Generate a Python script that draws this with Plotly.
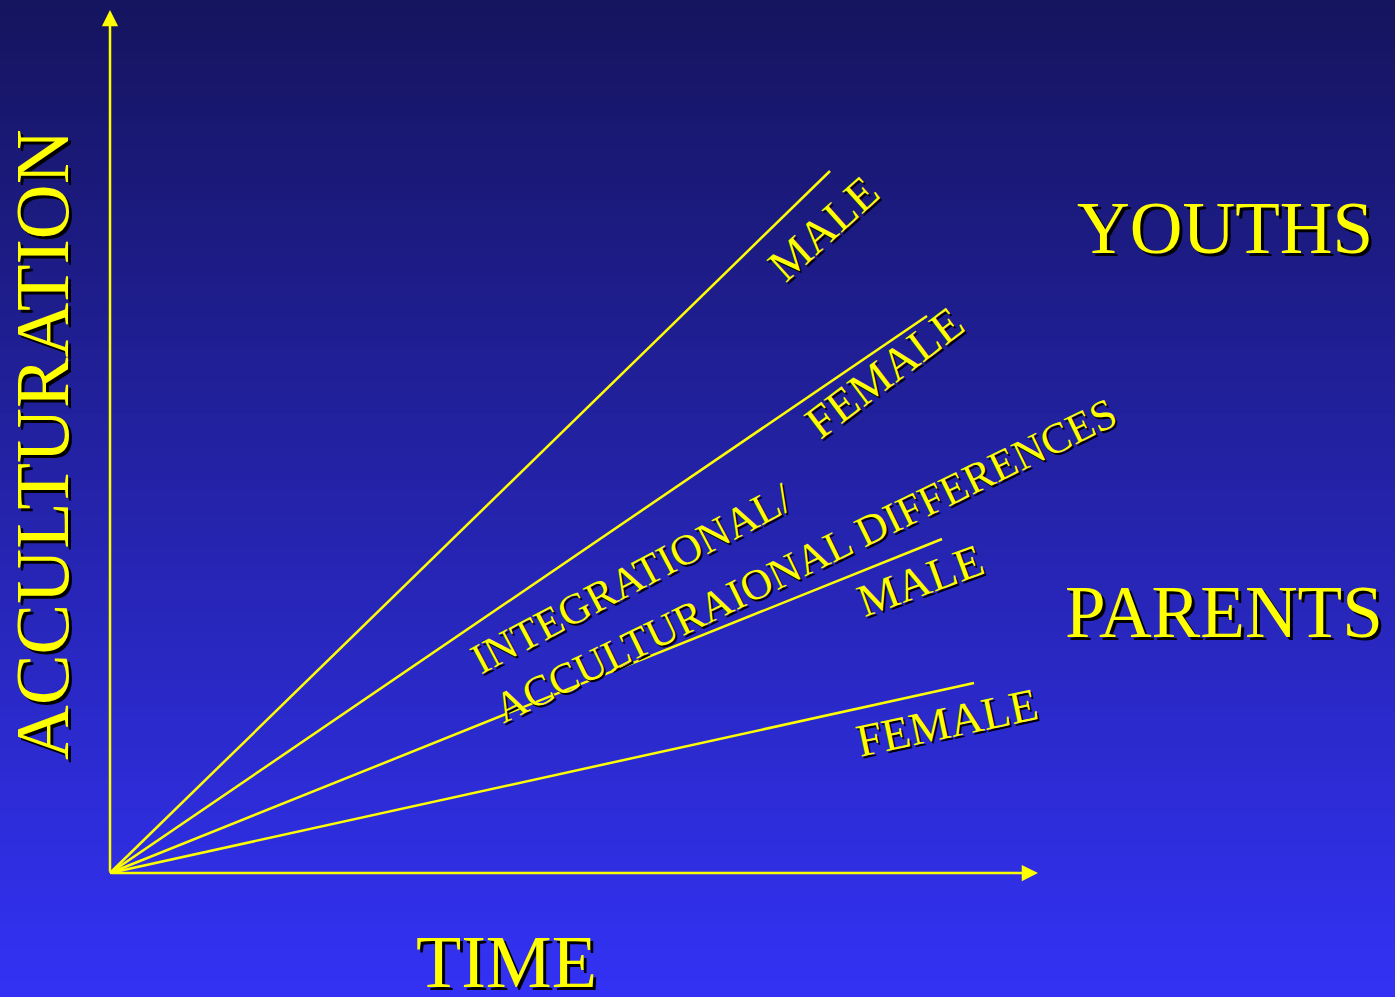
import plotly.graph_objects as go

# ---- data (abstract units: time / acculturation) ----
groups = ["YOUTHS", "YOUTHS", "PARENTS", "PARENTS"]
sexes = ["MALE", "FEMALE", "MALE", "FEMALE"]
time_end = [7.20, 8.17, 8.32, 8.64]
accult_end = [7.02, 5.57, 3.34, 1.90]

# label placement (data units) and angles
sex_label_x = [7.13, 7.74, 8.10, 8.37]
sex_label_y = [6.45, 5.01, 2.93, 1.51]
sex_label_angle = [-42, -37, -20, -12]

group_labels = ["YOUTHS", "PARENTS"]
group_label_x = [11.15, 11.14]
group_label_y = [6.45, 2.61]

mid_lines = ["INTEGRATIONAL/", "ACCULTURAIONAL DIFFERENCES"]
mid_x = [5.21, 6.95]
mid_y = [2.95, 3.13]
mid_angle = [-28, -26]

x_title = "TIME"
y_title = "ACCULTURATION"

W, H = 1395, 997
YEL = "#ffff00"
FONT = "Liberation Serif, Times New Roman, serif"

fig = go.Figure()

for i in range(len(time_end)):
    fig.add_trace(go.Scatter(
        x=[0, time_end[i]], y=[0, accult_end[i]], mode="lines",
        line=dict(color=YEL, width=2.5), hoverinfo="skip", showlegend=False,
        name=f"{groups[i]} {sexes[i]}"))

# background gradient
shapes = []
N = 120
top = (21, 20, 94)
bot = (51, 50, 245)
for k in range(N):
    t = (k + 0.5) / N
    c = tuple(round(top[j] + (bot[j] - top[j]) * t) for j in range(3))
    shapes.append(dict(type="rect", xref="paper", yref="paper",
                       x0=0, x1=1, y0=1 - (k + 1) / N - 0.001, y1=1 - k / N + 0.001,
                       fillcolor=f"rgb{c}", line=dict(width=0), layer="below"))

ann = []

def shadow_text(text, x, y, size, angle=0, dx=2, dy=-2):
    ann.append(dict(text=text, x=x, y=y, xref="x", yref="y", showarrow=False,
                    textangle=angle, font=dict(family=FONT, size=size, color="black"),
                    xshift=dx, yshift=dy))
    ann.append(dict(text=text, x=x, y=y, xref="x", yref="y", showarrow=False,
                    textangle=angle, font=dict(family=FONT, size=size, color=YEL)))

# axes arrows
ann.append(dict(x=0, y=8.63, ax=0, ay=0, xref="x", yref="y", axref="x", ayref="y",
                showarrow=True, arrowhead=2, arrowsize=1.3, arrowwidth=2.5,
                arrowcolor=YEL, text=""))
ann.append(dict(x=9.28, y=0, ax=0, ay=0, xref="x", yref="y", axref="x", ayref="y",
                showarrow=True, arrowhead=2, arrowsize=1.3, arrowwidth=2.5,
                arrowcolor=YEL, text=""))

for i in range(len(sexes)):
    shadow_text(sexes[i], sex_label_x[i], sex_label_y[i], 46, sex_label_angle[i])
for i in range(len(group_labels)):
    shadow_text(group_labels[i], group_label_x[i], group_label_y[i], 73, 0, 3, -3)
for i in range(len(mid_lines)):
    shadow_text(mid_lines[i], mid_x[i], mid_y[i], 43, mid_angle[i])
shadow_text(x_title, 3.96, -0.89, 74, 0, 3, -3)
shadow_text(y_title, -0.68, 4.28, 76, -90, 3, -3)

fig.update_layout(
    width=W, height=H, margin=dict(l=0, r=0, t=0, b=0),
    paper_bgcolor="rgb(36,35,170)", plot_bgcolor="rgba(0,0,0,0)",
    xaxis=dict(range=[-1.10, 12.85], visible=False, fixedrange=True),
    yaxis=dict(range=[-1.24, 8.73], visible=False, fixedrange=True),
    shapes=shapes, annotations=ann, showlegend=False,
)

fig.write_html("out.html", config={"displayModeBar": False},
               post_script="document.body.style.margin='0';document.body.style.overflow='hidden';")
